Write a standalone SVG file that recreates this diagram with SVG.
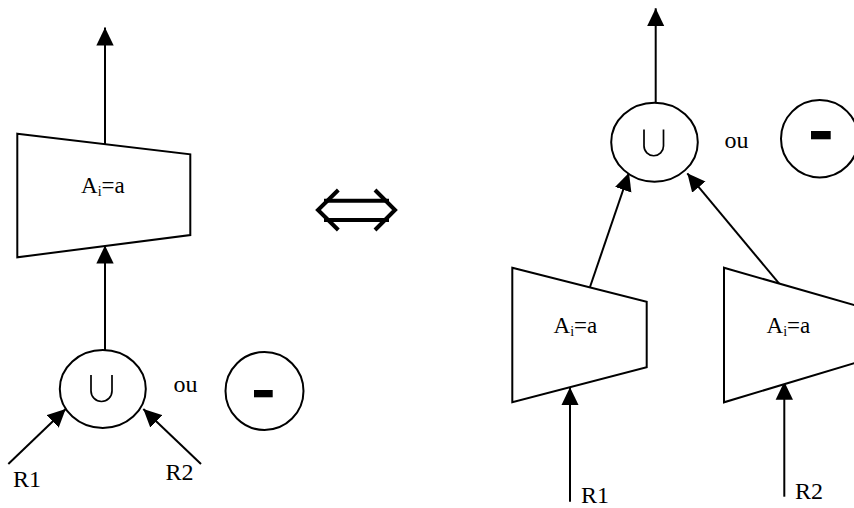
<svg xmlns="http://www.w3.org/2000/svg" width="854" height="508" viewBox="0 0 854 508">
  <style>
    .shape { fill: #fff; stroke: #000; stroke-width: 2; }
    .edge { fill: none; stroke: #000; stroke-width: 2; }
    .sym { fill: none; stroke: #000; stroke-width: 1.7; }
    .lbl { font-family: "Liberation Serif", "Times New Roman", serif; font-size: 23px; fill: #000; }
    .big { font-size: 24px; }
    .sub { font-size: 14px; }
  </style>
  <defs>
    <marker id="arrow" markerUnits="userSpaceOnUse" markerWidth="18" markerHeight="18" viewBox="0 -8 16 16" refX="16" refY="0" orient="auto">
      <path d="M0,-7.7 L16,0 L0,7.7 Z" fill="#000"/>
    </marker>
  </defs>

  <!-- connectors -->
  <g id="connectors">
    <line class="edge" x1="105" y1="144" x2="105" y2="27.5" marker-end="url(#arrow)"/>
    <line class="edge" x1="105" y1="350" x2="105" y2="245.5" marker-end="url(#arrow)"/>
    <line class="edge" x1="8.3" y1="464" x2="65.7" y2="409" marker-end="url(#arrow)"/>
    <line class="edge" x1="201" y1="464" x2="143.3" y2="409" marker-end="url(#arrow)"/>

    <line class="edge" x1="655.7" y1="103" x2="655.7" y2="8.3" marker-end="url(#arrow)"/>
    <line class="edge" x1="590" y1="287" x2="629" y2="172.7" marker-end="url(#arrow)"/>
    <line class="edge" x1="781.7" y1="286.7" x2="687.3" y2="173.3" marker-end="url(#arrow)"/>
    <line class="edge" x1="570" y1="501.7" x2="570" y2="387.3" marker-end="url(#arrow)"/>
    <line class="edge" x1="784.3" y1="496.7" x2="784.3" y2="381.7" marker-end="url(#arrow)"/>
  </g>

  <!-- left: selection above the set operation -->
  <g id="select-left">
    <polygon class="shape" points="17.3,133.7 190.3,154.3 190.3,235 17.3,257.3"/>
    <text class="lbl" x="81" y="193.3">A<tspan class="sub" dy="2.5">i</tspan><tspan dy="-2.5">=a</tspan></text>
  </g>
  <g id="union-left">
    <ellipse class="shape" cx="102.8" cy="389" rx="43" ry="39"/>
    <path class="sym" d="M91,375 V391 A10.5,10.5 0 0 0 112,391 V375"/>
  </g>
  <text class="lbl big" x="173.5" y="392.3">ou</text>
  <g id="minus-left">
    <circle class="shape" cx="264.5" cy="391" r="39"/>
    <rect x="254" y="390" width="18.7" height="7.3" fill="#000"/>
  </g>
  <text class="lbl big" x="13" y="486.7">R1</text>
  <text class="lbl big" x="165.5" y="480">R2</text>

  <!-- equivalence -->
  <g id="equiv" fill="none" stroke="#000" stroke-width="4">
    <path d="M338.3,190 L318,210 L338.3,230"/>
    <path d="M375,190 L395,210 L375,230"/>
    <line x1="324" y1="200.7" x2="389" y2="200.7"/>
    <line x1="324" y1="220" x2="389" y2="220"/>
  </g>

  <!-- right: selections pushed below the set operation -->
  <g id="union-right">
    <ellipse class="shape" cx="654.5" cy="142.2" rx="43.3" ry="39.5"/>
    <path class="sym" d="M644,129.5 V146 A9.75,9.75 0 0 0 663.5,146 V129.5"/>
  </g>
  <text class="lbl big" x="724.5" y="148">ou</text>
  <g id="minus-right">
    <circle class="shape" cx="819.7" cy="138.7" r="38.7"/>
    <rect x="811" y="131" width="19.7" height="8.3" fill="#000"/>
  </g>
  <g id="select-r1">
    <polygon class="shape" points="512.3,267.7 646.7,301.7 646.7,367.3 512.3,402.3"/>
    <text class="lbl" x="553.5" y="333.3">A<tspan class="sub" dy="2.5">i</tspan><tspan dy="-2.5">=a</tspan></text>
  </g>
  <g id="select-r2">
    <polygon class="shape" points="724,267.7 858.4,306.3 858.4,362 724,402.3"/>
    <text class="lbl" x="766.5" y="333.3">A<tspan class="sub" dy="2.5">i</tspan><tspan dy="-2.5">=a</tspan></text>
  </g>
  <text class="lbl big" x="581" y="503">R1</text>
  <text class="lbl big" x="795" y="499">R2</text>
</svg>
